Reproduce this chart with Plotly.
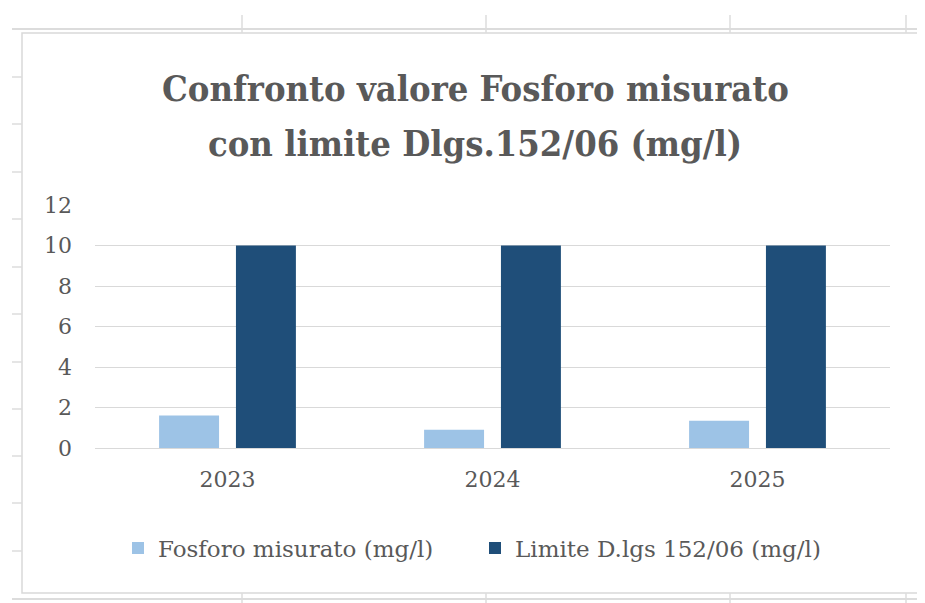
import plotly.graph_objects as go

years = ["2023", "2024", "2025"]
fosforo = [1.6, 0.9, 1.35]
limite = [10, 10, 10]
series_names = ["Fosforo misurato (mg/l)", "Limite D.lgs 152/06 (mg/l)"]
title_lines = ["Confronto valore Fosforo misurato", "con limite Dlgs.152/06 (mg/l)"]

OFF = 8  # default page body margin
W, H = 925 - OFF, 603 - OFF
L, R, T, B = 87, 35, 197, 155
PW, PH = W - L - R, H - T - B

def px(x):
    # reference pixel x -> paper
    return (x - OFF - L) / PW

def py(y):
    # reference pixel y -> paper
    return (H - B - (y - OFF)) / PH

TFONT = "DejaVu Serif Condensed, DejaVu Serif, serif"
FONT = "DejaVu Serif, serif"
GREY = "#595959"

fig = go.Figure()
fig.add_trace(go.Bar(x=years, y=fosforo, name=series_names[0],
                     marker=dict(color="#9DC3E6", line=dict(width=0))))
fig.add_trace(go.Bar(x=years, y=limite, name=series_names[1],
                     marker=dict(color="#1F4E79", line=dict(width=0))))

shapes = []
sheet = "#dcdcdc"
shapes.append(dict(type="rect", xref="paper", yref="paper", x0=px(22), x1=px(923), y0=py(593), y1=py(33),
                   line=dict(color="#d9d9d9", width=1.5), fillcolor="white", layer="below"))
shapes.append(dict(type="line", xref="paper", yref="paper", x0=px(12), x1=px(925), y0=py(29), y1=py(29),
                   line=dict(color=sheet, width=2)))
shapes.append(dict(type="line", xref="paper", yref="paper", x0=px(12), x1=px(925), y0=py(599), y1=py(599),
                   line=dict(color=sheet, width=2)))
for xv in [242, 486, 730, 906]:
    shapes.append(dict(type="line", xref="paper", yref="paper", x0=px(xv), x1=px(xv), y0=py(15), y1=py(33),
                       line=dict(color=sheet, width=1.5)))
    shapes.append(dict(type="line", xref="paper", yref="paper", x0=px(xv), x1=px(xv), y0=py(593), y1=py(603),
                       line=dict(color=sheet, width=1.5)))
for yv in [77, 124, 172, 219, 267, 314, 362, 409, 456, 503, 551]:
    shapes.append(dict(type="line", xref="paper", yref="paper", x0=px(12), x1=px(22), y0=py(yv), y1=py(yv),
                       line=dict(color=sheet, width=1.5)))

annotations = []
for text, yc in zip(title_lines, [88, 143]):
    annotations.append(dict(text=text, xref="paper", yref="paper", x=px(475), y=py(yc),
                            xanchor="center", yanchor="middle", showarrow=False,
                            font=dict(family=TFONT, size=36, color=GREY, weight="bold")))

fig.update_layout(
    width=W, height=H,
    margin=dict(l=L, r=R, t=T, b=B, pad=0),
    paper_bgcolor="white", plot_bgcolor="rgba(0,0,0,0)",
    barmode="group", bargap=0.42, bargroupgap=0.22,
    font=dict(family=FONT, color=GREY, size=22),
    legend=dict(orientation="h", x=px(118), xanchor="left", y=py(548), yanchor="middle",
                entrywidth=312, entrywidthmode="pixels",
                font=dict(family=FONT, size=23, color=GREY), traceorder="normal"),
    shapes=shapes,
    annotations=annotations,
)
fig.update_yaxes(range=[0, 12], dtick=2, showgrid=True, gridcolor="#d9d9d9", gridwidth=1,
                 zeroline=False, showline=False, ticks="", ticklabelstandoff=22,
                 tickfont=dict(family=FONT, size=22, color=GREY))
fig.update_xaxes(showline=True, linecolor="#d9d9d9", linewidth=1, ticks="", ticklabelstandoff=12,
                 tickfont=dict(family=FONT, size=22, color=GREY))

fig.write_html("out.html")
